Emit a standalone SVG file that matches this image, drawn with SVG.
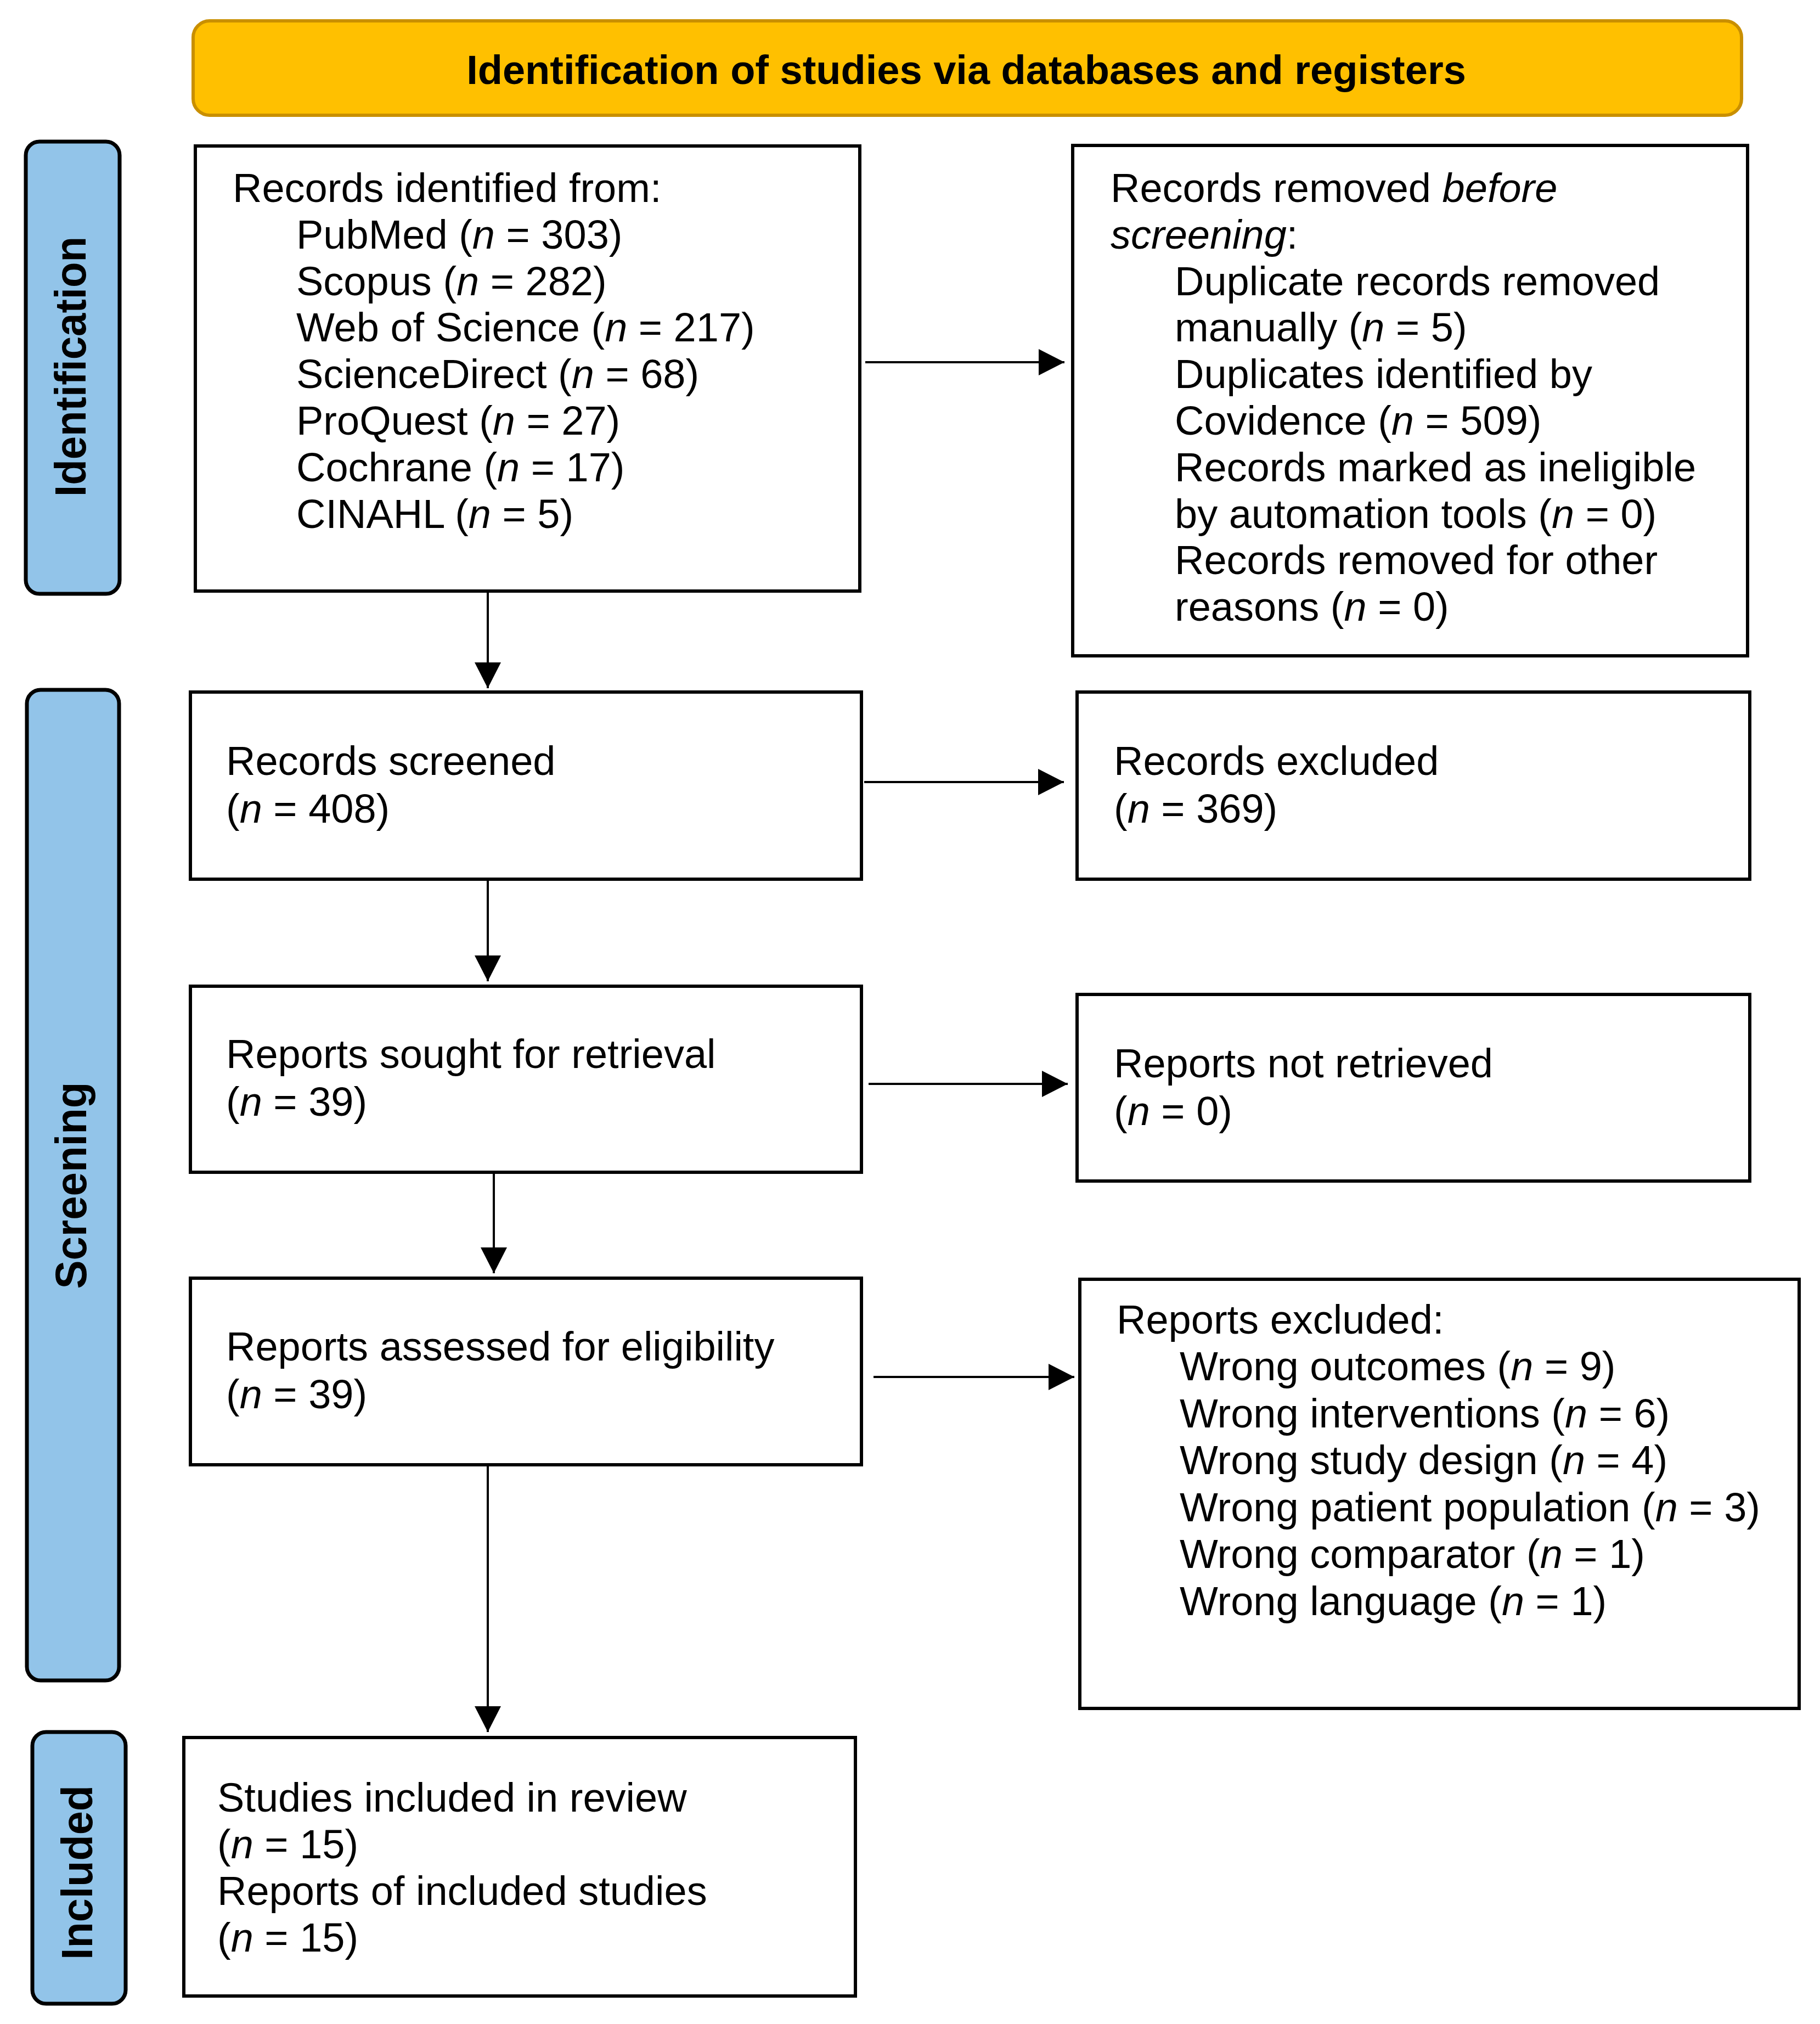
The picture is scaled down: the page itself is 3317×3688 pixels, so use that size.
<svg xmlns="http://www.w3.org/2000/svg" width="3317" height="3688" viewBox="0 0 3317 3688">
<style>
.box{fill:#ffffff;stroke:#000000;stroke-width:6}
.phase{fill:#92C4E9;stroke:#000000;stroke-width:7}
.t{font-family:"Liberation Sans",Arial,sans-serif;font-size:74px;fill:#000000}
.lbl{font-family:"Liberation Sans",Arial,sans-serif;font-size:80px;font-weight:bold;fill:#000000}
.conn line{stroke:#000000;stroke-width:4;fill:none}
</style>
<defs>
<marker id="ah" markerUnits="userSpaceOnUse" markerWidth="48" markerHeight="48" refX="47" refY="24" orient="auto" viewBox="0 0 48 48">
<path d="M0,0 L47,24 L0,48 Z" fill="#000000"/>
</marker>
</defs>
<rect width="3317" height="3688" fill="#ffffff"/>

<g id="title">
<rect x="352" y="38" width="2822" height="172" rx="30" ry="30" fill="#FFC000" stroke="#C98F00" stroke-width="6"/>
<text x="1761" y="153" text-anchor="middle" font-family="'Liberation Sans',Arial,sans-serif" font-size="74" font-weight="bold">Identification of studies via databases and registers</text>
</g>

<g id="phase-identification">
<rect class="phase" x="47" y="258" width="171" height="824" rx="25" ry="25"/>
<text class="lbl" transform="translate(156,668) rotate(-90)" text-anchor="middle" textLength="474" lengthAdjust="spacingAndGlyphs">Identification</text>
</g>
<g id="phase-screening">
<rect class="phase" x="49" y="1257" width="168" height="1805" rx="25" ry="25"/>
<text class="lbl" transform="translate(157,2160) rotate(-90)" text-anchor="middle" textLength="377" lengthAdjust="spacingAndGlyphs">Screening</text>
</g>
<g id="phase-included">
<rect class="phase" x="59" y="3156" width="170" height="495" rx="25" ry="25"/>
<text class="lbl" transform="translate(168,3412) rotate(-90)" text-anchor="middle" textLength="318" lengthAdjust="spacingAndGlyphs">Included</text>
</g>

<g id="records-identified">
<rect class="box" x="356" y="266" width="1211" height="811"/>
<text class="t" x="424" y="368">Records identified from:</text>
<text class="t" x="540" y="453">PubMed (<tspan font-style="italic">n</tspan> = 303)</text>
<text class="t" x="540" y="538">Scopus (<tspan font-style="italic">n</tspan> = 282)</text>
<text class="t" x="540" y="622">Web of Science (<tspan font-style="italic">n</tspan> = 217)</text>
<text class="t" x="540" y="707">ScienceDirect (<tspan font-style="italic">n</tspan> = 68)</text>
<text class="t" x="540" y="792">ProQuest (<tspan font-style="italic">n</tspan> = 27)</text>
<text class="t" x="540" y="877">Cochrane (<tspan font-style="italic">n</tspan> = 17)</text>
<text class="t" x="540" y="962">CINAHL (<tspan font-style="italic">n</tspan> = 5)</text>
</g>

<g id="records-removed">
<rect class="box" x="1955" y="265" width="1230" height="930"/>
<text class="t" x="2024" y="368">Records removed <tspan font-style="italic">before</tspan></text>
<text class="t" x="2024" y="453"><tspan font-style="italic">screening</tspan>:</text>
<text class="t" x="2141" y="538">Duplicate records removed</text>
<text class="t" x="2141" y="622">manually (<tspan font-style="italic">n</tspan> = 5)</text>
<text class="t" x="2141" y="707">Duplicates identified by</text>
<text class="t" x="2141" y="792">Covidence (<tspan font-style="italic">n</tspan> = 509)</text>
<text class="t" x="2141" y="877">Records marked as ineligible</text>
<text class="t" x="2141" y="962">by automation tools (<tspan font-style="italic">n</tspan> = 0)</text>
<text class="t" x="2141" y="1046">Records removed for other</text>
<text class="t" x="2141" y="1131">reasons (<tspan font-style="italic">n</tspan> = 0)</text>
</g>

<g id="records-screened">
<rect class="box" x="347" y="1261" width="1223" height="341"/>
<text class="t" x="412" y="1412">Records screened</text>
<text class="t" x="412" y="1499">(<tspan font-style="italic">n</tspan> = 408)</text>
</g>

<g id="records-excluded">
<rect class="box" x="1963" y="1261" width="1226" height="341"/>
<text class="t" x="2030" y="1412">Records excluded</text>
<text class="t" x="2030" y="1499">(<tspan font-style="italic">n</tspan> = 369)</text>
</g>

<g id="reports-sought">
<rect class="box" x="347" y="1797" width="1223" height="339"/>
<text class="t" x="412" y="1946">Reports sought for retrieval</text>
<text class="t" x="412" y="2033">(<tspan font-style="italic">n</tspan> = 39)</text>
</g>

<g id="reports-not-retrieved">
<rect class="box" x="1963" y="1812" width="1226" height="340"/>
<text class="t" x="2030" y="1963">Reports not retrieved</text>
<text class="t" x="2030" y="2050">(<tspan font-style="italic">n</tspan> = 0)</text>
</g>

<g id="reports-assessed">
<rect class="box" x="347" y="2329" width="1223" height="340"/>
<text class="t" x="412" y="2479">Reports assessed for eligibility</text>
<text class="t" x="412" y="2566">(<tspan font-style="italic">n</tspan> = 39)</text>
</g>

<g id="reports-excluded">
<rect class="box" x="1968" y="2331" width="1311" height="782"/>
<text class="t" x="2035" y="2430">Reports excluded:</text>
<text class="t" x="2150" y="2515">Wrong outcomes (<tspan font-style="italic">n</tspan> = 9)</text>
<text class="t" x="2150" y="2601">Wrong interventions (<tspan font-style="italic">n</tspan> = 6)</text>
<text class="t" x="2150" y="2686">Wrong study design (<tspan font-style="italic">n</tspan> = 4)</text>
<text class="t" x="2150" y="2772">Wrong patient population (<tspan font-style="italic">n</tspan> = 3)</text>
<text class="t" x="2150" y="2857">Wrong comparator (<tspan font-style="italic">n</tspan> = 1)</text>
<text class="t" x="2150" y="2943">Wrong language (<tspan font-style="italic">n</tspan> = 1)</text>
</g>

<g id="studies-included">
<rect class="box" x="335" y="3166" width="1224" height="471"/>
<text class="t" x="396" y="3301">Studies included in review</text>
<text class="t" x="396" y="3386">(<tspan font-style="italic">n</tspan> = 15)</text>
<text class="t" x="396" y="3471">Reports of included studies</text>
<text class="t" x="396" y="3556">(<tspan font-style="italic">n</tspan> = 15)</text>
</g>

<g id="connectors" class="conn">
<line x1="1577" y1="660" x2="1940" y2="660" marker-end="url(#ah)"/>
<line x1="889" y1="1080" x2="889" y2="1254" marker-end="url(#ah)"/>
<line x1="1575" y1="1425" x2="1939" y2="1425" marker-end="url(#ah)"/>
<line x1="889" y1="1605" x2="889" y2="1788" marker-end="url(#ah)"/>
<line x1="1583" y1="1975" x2="1946" y2="1975" marker-end="url(#ah)"/>
<line x1="900" y1="2139" x2="900" y2="2320" marker-end="url(#ah)"/>
<line x1="1592" y1="2509" x2="1958" y2="2509" marker-end="url(#ah)"/>
<line x1="889" y1="2672" x2="889" y2="3156" marker-end="url(#ah)"/>
</g>
</svg>
